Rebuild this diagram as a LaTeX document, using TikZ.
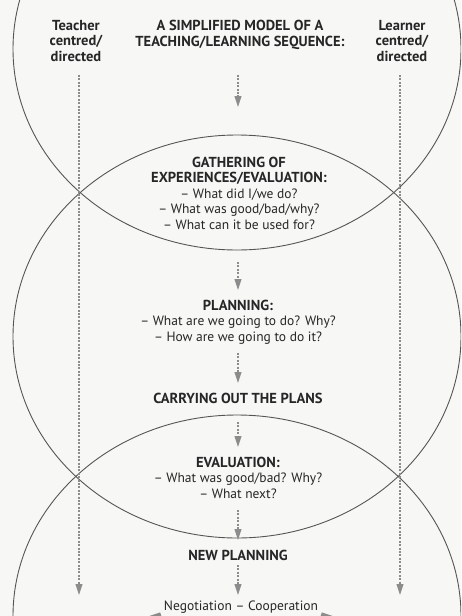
\documentclass[tikz,border=0pt]{standalone}
\usepackage{fontspec}
\setmainfont{PT Sans}
\usetikzlibrary{arrows.meta}
\definecolor{ring}{HTML}{555555}
\definecolor{arrowc}{HTML}{8C8C8C}
\definecolor{bg}{HTML}{F7F7F5}
\begin{document}
\begin{tikzpicture}[x=1pt,y=-1pt,
  ringline/.style={draw=ring, line width=0.9pt},
  head/.style={font=\bfseries\fontsize{14.5}{15.5}\selectfont, align=center, inner sep=0pt, anchor=base, text=black!85},
  body/.style={font=\fontsize{13.5}{15.5}\selectfont, align=center, inner sep=0pt, anchor=base, text=black!85},
  arr/.style={draw=arrowc, line width=1.1pt, dash pattern=on 2pt off 1.4pt, -{Triangle[width=7pt,length=11pt,fill=arrowc]}},
  wedge/.style={draw=arrowc, line width=3.5pt}]
\fill[bg] (0,0) rectangle (461,616);
\useasboundingbox (0,0) rectangle (461,616);
\begin{scope}
\clip (0,0) rectangle (461,616);
\draw[ringline] (237,49) ellipse [x radius=224, y radius=201];
\draw[ringline] (237,336.5) ellipse [x radius=224, y radius=201.5];
\draw[ringline] (237,616) ellipse [x radius=224, y radius=201];
\end{scope}
% texts (anchor base = baseline of last line)
\node[head] (teacher) at (76,61) {Teacher\\centred/\\directed};
\node[head] (learner) at (402,61) {Learner\\centred/\\directed};
\node[head] (title) at (240,46) {A SIMPLIFIED MODEL OF A\\TEACHING/LEARNING SEQUENCE:};
\node[body] (gather) at (239,229) {\textbf{\fontsize{14.5}{15.5}\selectfont GATHERING OF}\\\textbf{\fontsize{14.5}{15.5}\selectfont EXPERIENCES/EVALUATION:}\\– What did I/we do?\\– What was good/bad/why?\\– What can it be used for?};
\node[body] (plan) at (238,341) {\textbf{\fontsize{14.5}{15.5}\selectfont PLANNING:}\\– What are we going to do? Why?\\– How are we going to do it?};
\node[head] (carry) at (238,403) {CARRYING OUT THE PLANS};
\node[body] (eval) at (238,498) {\textbf{\fontsize{14.5}{15.5}\selectfont EVALUATION:}\\– What was good/bad? Why?\\– What next?};
\node[head] (newplan) at (238,560) {NEW PLANNING};
\node[body] (neg) at (241,610) {Negotiation – Cooperation};
% arrow end points
\coordinate (l0) at (79,75);  \coordinate (l1) at (79,595);
\coordinate (r0) at (400,75); \coordinate (r1) at (400,595);
\coordinate (c0) at (238,75);  \coordinate (c1) at (238,107);
\coordinate (c2) at (238,262); \coordinate (c3) at (238,290);
\coordinate (c4) at (238,353); \coordinate (c5) at (238,383);
\coordinate (c6) at (238,422); \coordinate (c7) at (238,447);
\coordinate (c8) at (238,510); \coordinate (c9) at (238,540);
\coordinate (c10) at (238,565); \coordinate (c11) at (238,595);
\coordinate (wl) at (128,625); \coordinate (wr) at (354,625);
\draw[arr] (l0) -- (l1);
\draw[arr] (r0) -- (r1);
\draw[arr] (c0) -- (c1);
\draw[arr] (c2) -- (c3);
\draw[arr] (c4) -- (c5);
\draw[arr] (c6) -- (c7);
\draw[arr] (c8) -- (c9);
\draw[arr] (c10) -- (c11);
\begin{scope}
\clip (0,0) rectangle (461,616);
\draw[wedge] ([xshift=-3pt,yshift=-1pt]neg.south west) -- (wl);
\draw[wedge] ([xshift=3pt,yshift=-1pt]neg.south east) -- (wr);
\end{scope}
\end{tikzpicture}
\end{document}
